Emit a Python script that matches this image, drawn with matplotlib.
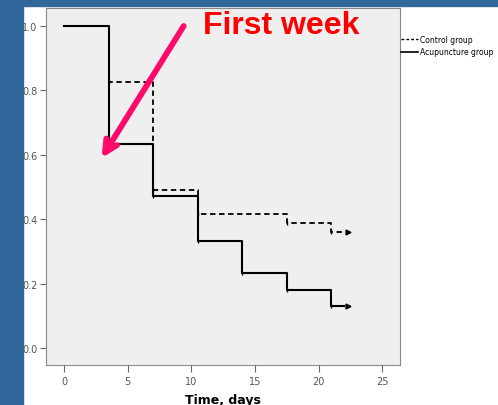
import numpy as np
import matplotlib.pyplot as plt
from matplotlib.patches import Rectangle
from matplotlib.lines import Line2D

# survival curves
days = [0, 3.5, 7, 10.5, 14, 17.5, 21, 22.3]
acupuncture = [1.0, 0.634, 0.472, 0.332, 0.233, 0.18, 0.129, 0.129]

days_ctrl = [0, 3.5, 7, 10.5, 17.5, 21, 22.3]
control = [1.0, 0.826, 0.49, 0.416, 0.388, 0.36, 0.36]

xticks = [0, 5, 10, 15, 20, 25]
yticks = [0.0, 0.2, 0.4, 0.6, 0.8, 1.0]

fig = plt.figure(figsize=(4.98, 4.06), dpi=100)
fig.patch.set_facecolor('white')

# blue slide frame on the left and top
blue = '#31679b'
fig.add_artist(Rectangle((0, 0), 23/498, 1, transform=fig.transFigure, color=blue, zorder=0))
fig.add_artist(Rectangle((0, 1 - 7/406), 1, 7/406, transform=fig.transFigure, color=blue, zorder=0))

ax = fig.add_axes([46/498, 1 - 366/406, 354/498, 357/406])
ax.set_facecolor('#efefef')

ax.step(days_ctrl[:-1] + [22.0], control, where='post', color='black', lw=1.3, ls=(0, (3, 2)))
ax.step(days[:-1] + [22.0], acupuncture, where='post', color='black', lw=1.5)

# censor ticks and end arrows
ax.plot(days_ctrl[1:-1], control[1:-1], ls='none', marker='|', ms=3, mew=1, color='black')
ax.plot(days[1:-1], acupuncture[1:-1], ls='none', marker='|', ms=3, mew=1, color='black')
ax.plot([days_ctrl[-1]], [control[-1]], ls='none', marker='>', ms=3.5, color='black')
ax.plot([days[-1]], [acupuncture[-1]], ls='none', marker='>', ms=3.5, color='black')

ax.set_xlim(-1.42, 26.4)
ax.set_ylim(-0.053, 1.056)
ax.set_xticks(xticks)
ax.set_yticks(yticks)
ax.set_yticklabels(['%.1f' % v for v in yticks])
ax.tick_params(axis='both', direction='out', length=4, width=0.8, colors='#666666',
               labelsize=7, labelcolor='#555555', pad=2)
ax.tick_params(axis='x', length=5, pad=3)
for s in ax.spines.values():
    s.set_color('#888888')
    s.set_linewidth(0.8)

ax.set_xlabel('Time, days', fontsize=9, fontweight='bold', labelpad=5)

# annotation
fig.text(203/498, 1 - 11/406, 'First week', color='red', fontsize=23,
         fontweight='bold', ha='left', va='top', family='Liberation Sans')
ax.annotate('', xy=(2.95, 0.59), xytext=(9.4, 1.0),
            arrowprops=dict(arrowstyle='->, head_length=0.9, head_width=0.45',
                            color='#ff0a6a', lw=4.2, shrinkA=0, shrinkB=0))

handles = [Line2D([], [], color='black', lw=1, ls=(0, (2, 1.5))),
           Line2D([], [], color='black', lw=1.2)]
fig.legend(handles, ['Control group', 'Acupuncture group'], loc='upper left',
           bbox_to_anchor=(400/498, 1 - 35/406), frameon=False, fontsize=5.5,
           handlelength=2.2, handletextpad=0.3, labelspacing=0.45, borderaxespad=0,
           borderpad=0.1)

fig.savefig('out.png', dpi=100)
